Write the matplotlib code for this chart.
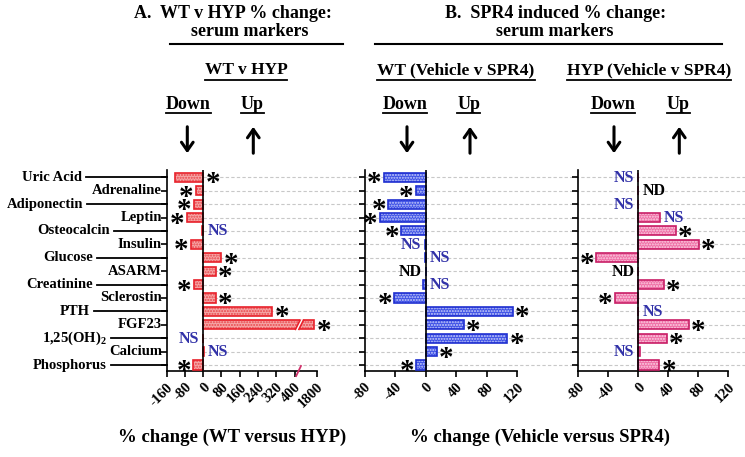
import numpy as np
import matplotlib
matplotlib.use("Agg")
import matplotlib.pyplot as plt
import matplotlib.transforms as mtransforms
from matplotlib.lines import Line2D
from matplotlib.patches import FancyArrowPatch, Polygon

plt.rcParams['font.family'] = ['Liberation Serif', 'DejaVu Serif']
plt.rcParams['font.weight'] = 'bold'
plt.rcParams['mathtext.fontset'] = 'custom'
plt.rcParams['mathtext.rm'] = 'Liberation Serif:bold'
plt.rcParams['mathtext.bf'] = 'Liberation Serif:bold'
plt.rcParams['mathtext.it'] = 'Liberation Serif:bold'
plt.rcParams['hatch.linewidth'] = 1.0

# ---------------- data ----------------
markers = ["Uric Acid", "Adrenaline", "Adiponectin", "Leptin", "Osteocalcin",
           "Insulin", "Glucose", "ASARM", "Creatinine", "Sclerostin", "PTH",
           "FGF23", "1,25(OH)$_2$", "Calcium", "Phosphorus"]

wt_v_hyp = [-125, -33, -40, -73, -4, -54, 80, 55, -40, 54, 303, 1790, 0, 2, -44]
wt_v_hyp_sig = ["*", "*", "*", "*", "NS", "*", "*", "*", "*", "*", "*", "*", "NS", "NS", "*"]
wt_v_hyp_side = [1, -1, -1, -1, 1, -1, 1, 1, -1, 1, 1, 1, -1, 1, -1]

wt_spr4 = [-55, -13, -49, -60, -32, -1, -1, 0, -3, -41, 114, 50, 107, 15, -12]
wt_spr4_sig = ["*", "*", "*", "*", "*", "NS", "NS", "ND", "NS", "*", "*", "*", "*", "*", "*"]
wt_spr4_side = [-1, -1, -1, -1, -1, -1, 1, -1, 1, -1, 1, 1, 1, 1, -1]

hyp_spr4 = [0, 0, 0, 29, 50, 81, -56, 0, 34, -31, 0, 67, 38, 2, 28]
hyp_spr4_sig = ["NS", "ND", "NS", "NS", "*", "*", "*", "ND", "*", "*", "NS", "*", "*", "NS", "*"]
hyp_spr4_side = [-1, 1, -1, 1, 1, 1, -1, -1, 1, -1, 1, 1, 1, -1, 1]

ticks_a = [-160, -80, 0, 80, 160, 240, 320, 400, 1800]
ticks_b = [-80, -40, 0, 40, 80, 120]

# ---------------- layout helpers ----------------
W, H = 745, 457
fig = plt.figure(figsize=(W / 100, H / 100), dpi=100)

def fx(px):
    return px / W

def fy(py):
    return 1 - py / H

AX_TOP, AX_BOT = 170, 371
ROW0, ROWN = 177.3, 365.0
n = len(markers)
step = (ROWN - ROW0) / (n - 1)
ylim = (n - 1 + (AX_BOT - ROWN) / step, -(ROW0 - AX_TOP) / step)
rows = np.arange(n)

def add_ax(l, r):
    return fig.add_axes([fx(l), fy(AX_BOT), fx(r) - fx(l), (AX_BOT - AX_TOP) / H])

# background grid lines (continuous across panels)
bg = add_ax(203.3, 745)
bg.set_ylim(*ylim)
bg.set_xlim(0, 1)
bg.axis('off')
for r in rows:
    bg.axhline(r, color='#c8c8c8', lw=0.8, ls=(0, (3, 2)), zorder=0)

# broken axis scale for panel A
B_LO, B_HI, B_GAP = 400.0, 1733.0, 30.0

def fwd(v):
    v = np.asarray(v, dtype=float)
    return np.where(v <= B_LO, v,
                    np.where(v < B_HI, B_LO + (v - B_LO) * B_GAP / (B_HI - B_LO),
                             v - (B_HI - B_LO - B_GAP)))

def inv(d):
    d = np.asarray(d, dtype=float)
    return np.where(d <= B_LO, d,
                    np.where(d < B_LO + B_GAP, B_LO + (d - B_LO) * (B_HI - B_LO) / B_GAP,
                             d + (B_HI - B_LO - B_GAP)))

axA = add_ax(166.7, 316.7)
axA.set_xscale('function', functions=(fwd, inv))
axA.set_xlim(-160, 1800)
axB = add_ax(364.5, 517.3)
axB.set_xlim(-80, 120)
axC = add_ax(578.3, 728.3)
axC.set_xlim(-80, 120)

styles = {
    'A': dict(fill='#f6a6a6', dots='#e8454a', edge='#e8202a'),
    'B': dict(fill='#3f52e6', dots='#c9cffa', edge='#1f2fd0'),
    'C': dict(fill='#ef6fa6', dots='#fbd3e4', edge='#c81e66'),
}
NS_COLOR = '#3232a8'
BAR_H = 0.68

def draw_panel(ax, vals, sigs, sides, ticks, st):
    ax.set_facecolor('none')
    ax.set_ylim(*ylim)
    for s in ['top', 'right']:
        ax.spines[s].set_visible(False)
    for s in ['left', 'bottom']:
        ax.spines[s].set_linewidth(1.2)
    ax.barh(rows, vals, height=BAR_H, color=st['fill'], edgecolor=st['dots'],
            hatch='......', linewidth=0, zorder=2)
    ax.barh(rows, vals, height=BAR_H, facecolor='none', edgecolor=st['edge'],
            linewidth=1.2, zorder=3)
    ax.axvline(0, color='black', lw=1.2, zorder=4)
    ax.set_yticks(rows)
    ax.set_yticklabels([''] * n)
    ax.tick_params(axis='y', length=4, width=1.2, direction='out')
    ax.set_xticks(ticks)
    ax.set_xticklabels([str(t) for t in ticks], rotation=45, ha='right', va='top',
                       rotation_mode='anchor', fontsize=10.5, fontweight='bold')
    ax.tick_params(axis='x', length=4, width=1.2, direction='out', pad=3)
    ax.minorticks_off()
    for r, v, s, sd in zip(rows, vals, sigs, sides):
        anchor = max(v, 0) if sd > 0 else min(v, 0)
        if s == '*':
            ax.annotate('*', xy=(anchor, r), xytext=(9.5 * sd, -6.5),
                        textcoords='offset pixels', ha='center', va='center',
                        fontsize=21, fontweight='bold', color='black', zorder=5,
                        annotation_clip=False)
        else:
            col = NS_COLOR if s == 'NS' else 'black'
            ax.annotate(s, xy=(anchor, r), xytext=(4 * sd, -0.5),
                        textcoords='offset pixels',
                        ha='left' if sd > 0 else 'right', va='center',
                        fontsize=11.5, fontweight='bold', color=col, zorder=5,
                        annotation_clip=False)

draw_panel(axA, wt_v_hyp, wt_v_hyp_sig, wt_v_hyp_side, ticks_a, styles['A'])
draw_panel(axB, wt_spr4, wt_spr4_sig, wt_spr4_side, ticks_b, styles['B'])
draw_panel(axC, hyp_spr4, hyp_spr4_sig, hyp_spr4_side, ticks_b, styles['C'])

# break decoration on the FGF23 bar and axis of panel A
iF = markers.index("FGF23")
h2 = BAR_H / 2 + 0.08
gx_b = inv([404, 419])
gx_t = inv([424, 439])
gap = Polygon([(gx_b[0], iF + h2), (gx_b[1], iF + h2), (gx_t[1], iF - h2), (gx_t[0], iF - h2)],
              closed=True, facecolor='white', edgecolor='none', zorder=4.5)
axA.add_patch(gap)
for a, b in [(0, 0), (1, 1)]:
    axA.plot([gx_b[a], gx_t[b]], [iF + BAR_H / 2, iF - BAR_H / 2], color=styles['A']['edge'],
             lw=1.2, zorder=4.6)
tr = mtransforms.blended_transform_factory(axA.transData, axA.transAxes)
bx = inv([407, 428])
axA.plot(bx, [-0.025, 0.025], color='#d0306a', lw=1.3, transform=tr, clip_on=False, zorder=6)

# row labels of panel A with leader lines
far_right_px = [82, None, 83, None, 110, None, 93, None, 93, None, 90, None, 107, None, 107]
trL = mtransforms.blended_transform_factory(fig.transFigure, axA.transData)
for r, name, rp in zip(rows, markers, far_right_px):
    if rp is None:
        fig.text(fx(162), r, name, transform=trL, ha='right', va='center',
                 fontsize=10.5, fontweight='bold')
    else:
        fig.text(fx(rp), r, name, transform=trL, ha='right', va='center',
                 fontsize=10.5, fontweight='bold')
        fig.add_artist(Line2D([fx(rp + 4), fx(166.7)], [r, r], transform=trL,
                              color='black', lw=1.3))

# headers
def ftext(px, py, s, size, **kw):
    return fig.text(fx(px), fy(py), s, ha='center', va='center', fontsize=size,
                    fontweight='bold', **kw)

ftext(233.3, 14, "A.  WT v HYP % change:", 13)
ftext(250, 32, "serum markers", 13)
ftext(556, 14, "B.  SPR4 induced % change:", 13)
ftext(555, 32, "serum markers", 13)
fig.add_artist(Line2D([fx(170), fx(343.3)], [fy(43.5)] * 2, color='black', lw=1.5))
fig.add_artist(Line2D([fx(375), fx(722)], [fy(43.5)] * 2, color='black', lw=1.5))

under = []
under.append((ftext(246, 70.5, "WT v HYP", 12.5), 80))
under.append((ftext(456, 70.5, "WT (Vehicle v SPR4)", 12.5), 80))
under.append((ftext(649, 70.5, "HYP (Vehicle v SPR4)", 12.5), 80))
for d, u in [(188.3, 252), (405, 469), (613, 678)]:
    under.append((ftext(d, 104.5, "Down", 13), 113))
    under.append((ftext(u, 104.5, "Up", 13), 113))

arrows = [(187.3, 'down'), (253.3, 'up'), (407, 'down'), (470, 'up'), (614, 'down'), (679.3, 'up')]
for x, d in arrows:
    a, b = (124, 156) if d == 'down' else (156, 124)
    fig.add_artist(FancyArrowPatch((fx(x), fy(a)), (fx(x), fy(b)), transform=fig.transFigure,
                                   arrowstyle='->,head_length=0.4,head_width=0.28',
                                   mutation_scale=15, lw=2.2, color='black'))

ftext(232, 437, "% change (WT versus HYP)", 13.5)
ftext(540, 437, "% change (Vehicle versus SPR4)", 13.5)

fig.canvas.draw()
ren = fig.canvas.get_renderer()
for t, uy in under:
    bb = t.get_window_extent(ren)
    fig.add_artist(Line2D([bb.x0 / W, bb.x1 / W], [fy(uy)] * 2, color='black', lw=1.3))

fig.savefig("out.png", dpi=100)
